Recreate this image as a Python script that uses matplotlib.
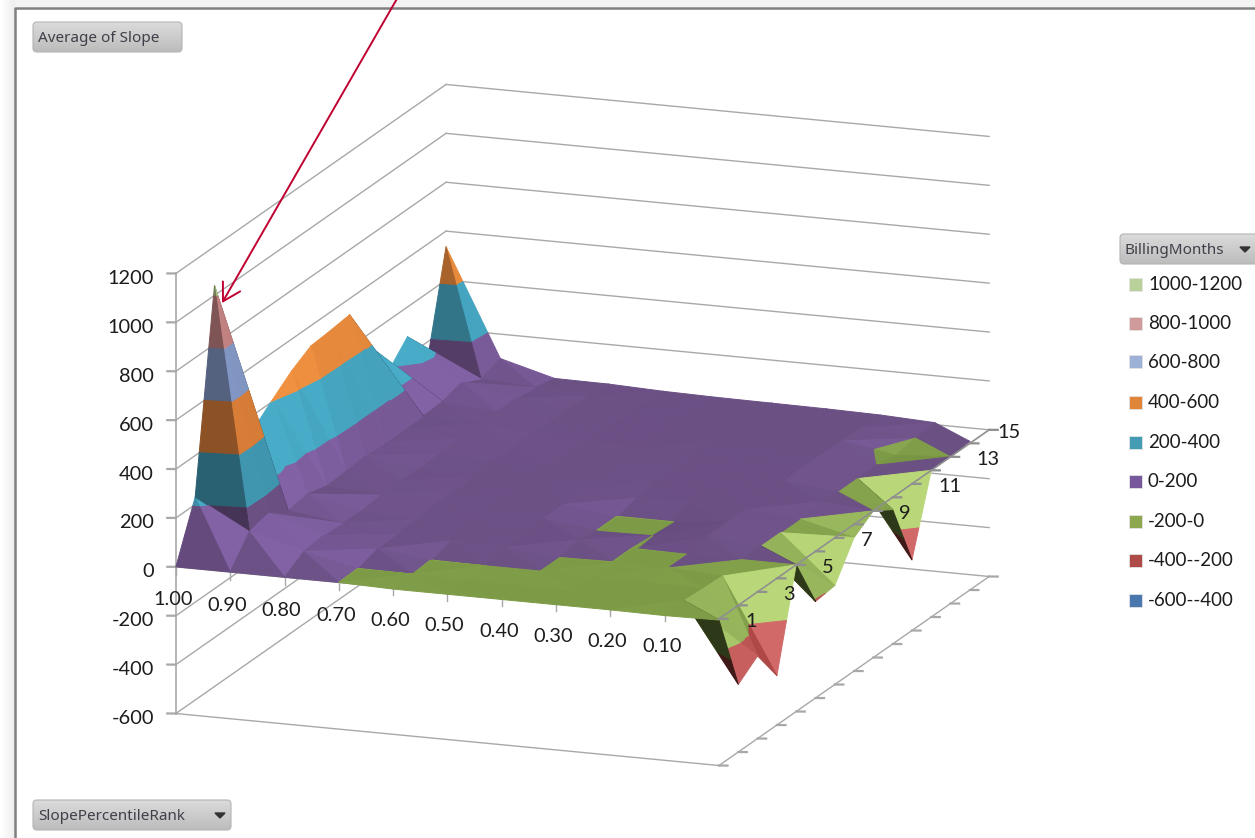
"""Excel style 3D surface of average slope by percentile rank and billing months."""

import matplotlib

matplotlib.use("Agg")
import matplotlib.pyplot as plt
import numpy as np
from matplotlib.patches import FancyBboxPatch, Rectangle
from mpl_toolkits.mplot3d import proj3d
from mpl_toolkits.mplot3d.art3d import Poly3DCollection

W, H = 1255, 838

rank_labels = ["1.00", "0.90", "0.80", "0.70", "0.60", "0.50", "0.40", "0.30", "0.20", "0.10", ""]
month_labels = ["1", "3", "5", "7", "9", "11", "13", "15"]
z_ticks = [-600, -400, -200, 0, 200, 400, 600, 800, 1000, 1200]

# one list per percentile rank, values for billing months 1..15
rank_100 = [0, 230, 1040, 380, 340, 407, 470, 517, 524, 534, 352, 190, 278, 110, 536]
rank_090 = [0, 110, 130, 85, 98, 76, 80, 88, 85, 85, 85, 90, 113, 72, 100]
rank_080 = [0, 50, 60, 55, 50, 60, 62, 58, 62, 70, 75, 70, 68, 58, 40]
rank_070 = [0, -1, 27, 32, 35, 42, 45, 46, 50, 55, 56, 52, 48, 45, 38]
rank_060 = [-6, 0, -1, 25, 28, 34, 36, 40, 42, 44, 44, 42, 40, 36, 30]
rank_050 = [-6, -6, 0, 18, 22, 26, 30, 33, 36, 38, 38, 36, 34, 30, 26]
rank_040 = [-6, -6, 0, 0, 18, -1, -1, 22, 28, 30, 32, 32, 30, 26, 24]
rank_030 = [-6, -6, -5, -1, -1, 0, -1, 20, 24, 26, 28, 28, 26, 24, 22]
rank_020 = [-6, -6, -6, 0, 0, 18, 20, 18, 20, 22, 24, 24, 22, 20, 18]
rank_010 = [-8, -2, -8, -12, 0, 0, 0, 0, 15, 0, 0, 0, -15, 0, 8]
rank_000 = [-5, -323, -262, -398, 0, -205, -195, -54, 0, -50, -311, 0, 0, 8, np.nan]

band_labels = ["1000-1200", "800-1000", "600-800", "400-600", "200-400", "0-200", "-200-0", "-400--200", "-600--400"]
band_edges = [1000, 800, 600, 400, 200, 0, -200, -400, -600]
legend_colors = ["#bad09a", "#d19a9a", "#9db1d6", "#df8439", "#439cb3", "#77589a", "#8ca74e", "#ae4a48", "#4a77ad"]
flat_colors = [(175, 200, 135), (195, 130, 130), (130, 150, 195), (215, 125, 55), (64, 150, 175),
               (107, 80, 132), (125, 155, 70), (170, 70, 68), (70, 115, 170)]
bright_colors = [(185, 210, 145), (215, 145, 145), (155, 175, 220), (240, 145, 65), (72, 172, 200),
                 (130, 97, 165), (185, 215, 120), (210, 105, 105), (95, 140, 195)]

GRID = "#a8a8a8"
AXIS = "#8f8f8f"
TEXT = "#1c1c1c"
FONT = "Lato"

ELEV, AZIM = 15.0, -69.7
BOX = (579.0, 778.6, 455.5)


def clip_band(tri, lo, hi):
    """Cut a triangle down to the part between two heights."""
    poly = [np.asarray(p, dtype=float) for p in tri]
    for level, sign in ((lo, 1), (hi, -1)):
        out = []
        for k, p in enumerate(poly):
            q = poly[(k + 1) % len(poly)]
            dp, dq = sign * (p[2] - level), sign * (q[2] - level)
            if dp >= 0:
                out.append(p)
            if dp * dq < 0:
                out.append(p + (q - p) * dp / (dp - dq))
        poly = out
        if len(poly) < 3:
            return None
    return np.array(poly)


def face_color(tri, band):
    scale = np.array([BOX[0] / 10, BOX[1] / 14, BOX[2] / 1800])
    a, b, c = [np.asarray(p) * scale for p in tri]
    normal = np.cross(b - a, c - a)
    length = np.linalg.norm(normal)
    if length == 0:
        return tuple(v / 255 for v in flat_colors[band])
    normal = normal / length
    if normal[2] < 0:
        normal = -normal
    az, el = np.radians(AZIM), np.radians(ELEV)
    view = np.array([np.cos(el) * np.cos(az), np.cos(el) * np.sin(az), np.sin(el)])
    flat = np.array(flat_colors[band], dtype=float)
    bright = np.array(bright_colors[band], dtype=float)
    if normal @ view < 0:
        return tuple(flat * 0.36 / 255)
    # the pits below zero catch more light on the faces turned to the viewer
    pit = 0.6 * normal[0] - 1.4 * normal[1]
    if band >= 6 and pit > 0:
        return tuple((flat + (bright - flat) * min(pit, 1)) / 255)
    shade = 0.76 * normal[0] - 0.3 * normal[1] + normal[2]
    if shade < 1:
        dark = 1 - shade
        return tuple(flat * (1 - dark * min(dark / 0.15, 1)) / 255)
    return tuple((flat + (bright - flat) * min((shade - 1) / 0.2, 1) ** 1.5) / 255)


def surface_faces(values):
    verts, colors = [], []
    for i in range(values.shape[0] - 1):
        for j in range(values.shape[1] - 1):
            p00 = (i, j, values[i, j])
            p10 = (i + 1, j, values[i + 1, j])
            p01 = (i, j + 1, values[i, j + 1])
            p11 = (i + 1, j + 1, values[i + 1, j + 1])
            # each cell folds along its higher diagonal
            if p00[2] + p11[2] > p10[2] + p01[2]:
                tris = ((p00, p10, p11), (p00, p01, p11))
            else:
                tris = ((p00, p10, p01), (p10, p01, p11))
            for tri in tris:
                heights = [p[2] for p in tri]
                if np.isnan(heights).any():
                    continue
                for band, lo in enumerate(band_edges):
                    hi = lo + 200
                    if max(heights) == min(heights):
                        if lo <= heights[0] < hi:
                            verts.append(np.array(tri, dtype=float))
                            colors.append(face_color(tri, band))
                        continue
                    poly = clip_band(tri, lo, hi)
                    if poly is not None:
                        verts.append(poly)
                        colors.append(face_color(tri, band))
    return verts, colors


def label_3d(ax, x, y, z, text, dx, dy, ha):
    """Text at a projected data point, shifted by a few pixels."""
    px, py, _ = proj3d.proj_transform(x, y, z, ax.get_proj())
    ax.annotate(text, xy=(px, py), xycoords="data", xytext=(dx, dy), textcoords="offset pixels",
                ha=ha, va="center", family=FONT, fontsize=14.4, color=TEXT, zorder=8, annotation_clip=False)


def button(ax, x, y, w, h, label, arrow=True):
    patch = FancyBboxPatch((x + 3, y + 3), w - 6, h - 6, boxstyle="round,pad=3,rounding_size=4",
                           fc="none", ec="#b4b4b4", lw=0.8, zorder=3)
    ax.add_patch(patch)
    shade = ax.imshow(np.linspace(0.86, 0.74, 30)[:, None], cmap="gray", vmin=0, vmax=1, aspect="auto",
                      extent=(x, x + w, y + h, y), zorder=2)
    shade.set_clip_path(patch)
    ax.text(x + 5, y + h / 2 + 1.5, label, family="Noto Sans", fontsize=11, color="#3f3f49", va="center", zorder=4)
    if arrow:
        tx = x + w - 11 if x + w < W else 1245
        ax.fill([tx - 5, tx + 5, tx], [y + h / 2 - 2, y + h / 2 - 2, y + h / 2 + 3], color="#333333", zorder=4)


values = np.array([rank_100, rank_090, rank_080, rank_070, rank_060, rank_050,
                   rank_040, rank_030, rank_020, rank_010, rank_000], dtype=float)
n_rank, n_month = values.shape

fig = plt.figure(figsize=(W / 100, H / 100), dpi=100, facecolor="white")

# the 3D box is orthographic, so its scale and centre come straight from the axes size
side = 1040.7
ax = fig.add_axes([48.1 / W, -121.4 / H, side / W, side / H], projection="3d", proj_type="ortho")
ax.set_box_aspect(BOX)
ax.view_init(elev=ELEV, azim=AZIM)
ax.computed_zorder = False
ax.set_xlim(0, n_rank - 1)
ax.set_ylim(0, n_month - 1)
ax.set_zlim(-600, 1200)
ax.set_axis_off()
ax.patch.set_alpha(0)

xmax, ymax = n_rank - 1, n_month - 1
for z in z_ticks:
    ax.plot([0, 0], [0, ymax], [z, z], color=GRID, lw=1, zorder=1)
    ax.plot([0, xmax], [ymax, ymax], [z, z], color=GRID, lw=1, zorder=1)
    ax.plot([0, -0.14], [0, -0.05], [z, z], color=GRID, lw=1.6, zorder=1)
    label_3d(ax, 0, 0, z, str(z), -22, -5, "right")
ax.plot([0, 0], [0, 0], [-600, 1200], color=GRID, lw=1.2, zorder=1)
ax.plot([0, xmax], [0, 0], [-600, -600], color=GRID, lw=1, zorder=1)
ax.plot([xmax, xmax], [0, ymax], [-600, -600], color=GRID, lw=1, zorder=1)
for j in range(n_month):
    ax.plot([xmax, xmax + 0.14], [j, j + 0.05], [-600, -600], color=GRID, lw=1.6, zorder=1)

verts, colors = surface_faces(values)
ax.add_collection3d(Poly3DCollection(verts, facecolors=colors, edgecolors=colors, linewidths=0.7,
                                     zsort="average", zorder=3))

# category and series axes sit at height zero, in front of the surface
ax.plot([0, xmax], [0, 0], [0, 0], color=AXIS, lw=1, zorder=2)
ax.plot([xmax, xmax], [0, ymax], [0, 0], color=AXIS, lw=1.2, zorder=5)
for i, label in enumerate(rank_labels):
    ax.plot([i, i], [0, 0], [0, -32], color=GRID, lw=1, zorder=2)
    if label:
        label_3d(ax, i, 0, 0, label, -3, -33, "center")
for j in range(n_month):
    ax.plot([xmax, xmax + 0.14], [j, j + 0.05], [0, 0], color=AXIS, lw=1.6, zorder=5)
for k, label in enumerate(month_labels):
    label_3d(ax, xmax, 2 * k, 0, label, 8 if label == "15" else 26, -3, "left")

# pivot chart furniture, in screenshot pixels
ui = fig.add_axes([0, 0, 1, 1], zorder=5)
ui.set_xlim(0, W)
ui.set_ylim(H, 0)
ui.axis("off")
ui.patch.set_alpha(0)
ui.imshow(np.linspace(1.0, 0.93, 15)[None, :], cmap="gray", vmin=0, vmax=1, aspect="auto",
          extent=(0, 15, H, 0), zorder=1)
ui.add_patch(Rectangle((15, 0), W - 15, 7, fc="#f3f3f3", ec="none", zorder=1))
ui.plot([15, 15, W], [H, 8, 8], color="#808080", lw=1.8, zorder=2)

button(ui, 33, 22, 149, 30, "Average of Slope", arrow=False)
button(ui, 33, 800, 198, 30, "SlopePercentileRank")
button(ui, 1120, 234, 145, 30, "BillingMonths")

legend_y = [284, 323, 362, 402, 442, 481, 521, 560, 600]
for y, label, color in zip(legend_y, band_labels, legend_colors):
    ui.add_patch(Rectangle((1129, y - 6.5), 13, 13, fc=color, ec="#e4e4e4", lw=0.6, zorder=3))
    ui.text(1148, y, label, family=FONT, fontsize=13.5, color=TEXT, va="center", zorder=3)

ui.annotate("", xy=(222, 303), xytext=(398, -3), zorder=6, annotation_clip=False,
            arrowprops=dict(arrowstyle="->,head_length=0.95,head_width=0.55", color="#c00030", lw=1.4,
                            mutation_scale=13, shrinkA=0, shrinkB=0))
ui.set_xlim(0, W)
ui.set_ylim(H, 0)

fig.savefig("out.png", dpi=100)
plt.close(fig)
